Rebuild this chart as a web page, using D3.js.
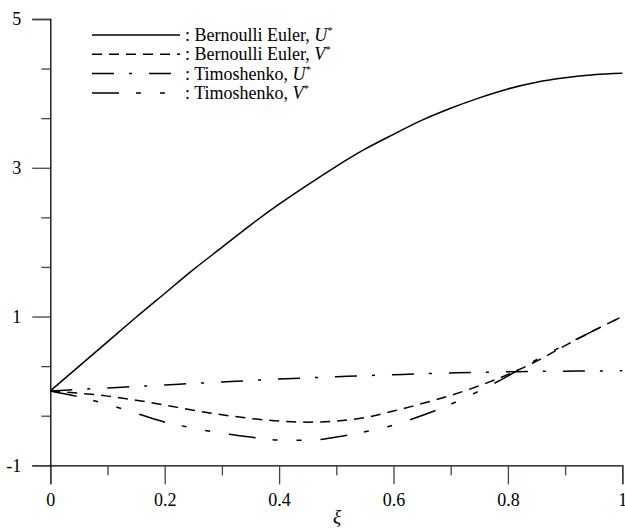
<!DOCTYPE html>
<html>
<head>
<meta charset="utf-8">
<script src="https://cdn.jsdelivr.net/npm/d3@7"></script>
<style>
  body { margin: 0; background: #fff; }
  svg text { font-family: "Liberation Serif", "Times New Roman", serif; }
</style>
</head>
<body>
<div id="chart"></div>
<script>
const width = 625;
const height = 531;

// data, xi in steps of 0.05
const xi = [0, 0.05, 0.1, 0.15, 0.2, 0.25, 0.3, 0.35, 0.4, 0.45, 0.5,
            0.55, 0.6, 0.65, 0.7, 0.75, 0.8, 0.85, 0.9, 0.95, 1];
const bernoulliU = [0, 0.33, 0.66, 0.99, 1.31, 1.63, 1.93, 2.23, 2.51, 2.77, 3.02,
                    3.25, 3.45, 3.64, 3.80, 3.94, 4.06, 4.15, 4.21, 4.25, 4.27];
const bernoulliV = [0, -0.03, -0.07, -0.125, -0.19, -0.26, -0.32, -0.37, -0.405, -0.42, -0.405,
                    -0.36, -0.27, -0.17, -0.06, 0.07, 0.22, 0.40, 0.61, 0.81, 1.0];
const timoshenkoU = [0, 0.02, 0.04, 0.06, 0.08, 0.10, 0.12, 0.14, 0.16, 0.175, 0.19,
                     0.205, 0.218, 0.23, 0.241, 0.25, 0.257, 0.262, 0.266, 0.268, 0.27];
const timoshenkoV = [0, -0.08, -0.18, -0.30, -0.42, -0.50, -0.57, -0.62, -0.66, -0.665, -0.62,
                     -0.55, -0.46, -0.33, -0.18, 0.0, 0.2, 0.42, 0.62, 0.81, 1.0];

const xMajor = [0, 0.2, 0.4, 0.6, 0.8, 1];
const xMinor = [0.1, 0.3, 0.5, 0.7, 0.9];
const yMajor = [5, 3, 1, -1];
const yMinor = [13/3, 11/3, 7/3, 5/3, 1/3, -1/3];

const series = [
  { name: "Bernoulli Euler, ", sym: "U", values: bernoulliU, dash: null },
  { name: "Bernoulli Euler, ", sym: "V", values: bernoulliV, dash: "10,7" },
  { name: "Timoshenko, ", sym: "U", values: timoshenkoU, dash: "22,15,3,17" },
  { name: "Timoshenko, ", sym: "V", values: timoshenkoV, dash: "27,17,5,19,5,19" }
];

const svg = d3.select('#chart')
              .append('svg')
              .attr('width', width)
              .attr('height', height);

const xScale = d3.scaleLinear()
                 .domain([0, 1])
                 .range([50.3, 622.3]);
const yScale = d3.scaleLinear()
                 .domain([-1, 5])
                 .range([465.3, 19]);

const plain = d => String(d); // keeps "-1" with a hyphen like the original

// x axis
svg.append('g')
   .attr('class', 'axis')
   .attr('transform', `translate(0,${yScale(-1)})`)
   .call(d3.axisBottom(xScale).tickValues(xMajor).tickSize(19).tickPadding(9)
         .tickFormat(plain));
svg.append('g')
   .attr('class', 'axis')
   .attr('transform', `translate(0,${yScale(-1)})`)
   .call(d3.axisBottom(xScale).tickValues(xMinor).tickSize(10).tickFormat(''))
   .call(g => g.select('.domain').remove());

// y axis
svg.append('g')
   .attr('class', 'axis')
   .attr('transform', `translate(${xScale(0)},0)`)
   .call(d3.axisLeft(yScale).tickValues(yMajor).tickSize(18).tickPadding(11)
         .tickFormat(plain));
svg.append('g')
   .attr('class', 'axis')
   .attr('transform', `translate(${xScale(0)},0)`)
   .call(d3.axisLeft(yScale).tickValues(yMinor).tickSize(9).tickFormat(''))
   .call(g => g.select('.domain').remove());

svg.selectAll('.axis').attr('font-size', 18);
svg.selectAll('.domain').attr('stroke', '#000').attr('stroke-width', 1.3);
svg.selectAll('.tick line').attr('stroke', '#444').attr('stroke-width', 1.3);
svg.selectAll('.tick text').attr('fill', '#000');

svg.append('text')
   .attr('x', 337)
   .attr('y', 523)
   .attr('text-anchor', 'middle')
   .attr('font-size', 19)
   .style('font-style', 'italic')
   .text('ξ');

// curves
const line = d3.line()
               .x((d, i) => xScale(xi[i]))
               .y(d => yScale(d))
               .curve(d3.curveMonotoneX);

svg.selectAll('.curve')
   .data(series)
   .enter()
   .append('path')
   .attr('class', 'curve')
   .attr('d', d => line(d.values))
   .attr('fill', 'none')
   .attr('stroke', '#000')
   .attr('stroke-width', 1.5)
   .attr('stroke-dasharray', d => d.dash);

// legend
const legend = svg.append('g')
                  .attr('transform', 'translate(92,35)');
const rows = legend.selectAll('g')
                   .data(series)
                   .enter()
                   .append('g')
                   .attr('transform', (d, i) => `translate(0,${i * 19.3})`);
rows.append('line')
    .attr('x1', 0).attr('x2', 88)
    .attr('stroke', '#000')
    .attr('stroke-width', 1.5)
    .attr('stroke-dasharray', d => d.dash);
const label = rows.append('text')
    .attr('x', 93)
    .attr('y', 6)
    .attr('font-size', 18);
label.append('tspan').text(d => ': ' + d.name);
label.append('tspan').style('font-style', 'italic').text(d => d.sym);
label.append('tspan').attr('dy', -7).attr('font-size', 11).text('*');
</script>
</body>
</html>
